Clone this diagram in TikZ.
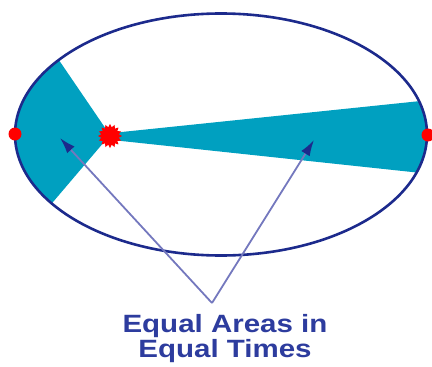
\documentclass[tikz,border=0pt]{standalone}
\usepackage{fontspec}
\setsansfont{Liberation Sans}
\usetikzlibrary{arrows.meta,shapes.geometric}
\definecolor{orbitblue}{HTML}{1C2A8C}
\definecolor{sweep}{HTML}{00A0C0}
\definecolor{ptr}{HTML}{7478BE}
\definecolor{ptrhead}{HTML}{1C2A8C}
\definecolor{captionblue}{HTML}{2D3C9E}

\begin{document}
\begin{tikzpicture}[x=1pt,y=-1pt,font=\sffamily\bfseries,
  orbit/.style={draw=orbitblue,line width=2.6pt},
  area/.style={fill=sweep},
  planet/.style={circle,fill=red,inner sep=0pt,minimum size=13pt},
  sun/.style={star,star points=16,star point ratio=1.35,fill=red,inner sep=0pt,minimum size=24pt},
  pointer/.style={-{Latex[length=16pt,width=10pt,color=ptrhead]},draw=ptr,line width=1.8pt}]
  \useasboundingbox (0,0) rectangle (432,367);
  % swept areas, cut to the orbit
  \begin{scope}
    \clip (221,134.5) ellipse [x radius=206,y radius=121];
    \fill[area] (110,135) -- (35,25) -- (0,25) -- (0,242) -- (19,242) -- cycle;
    \fill[area] (112,133) -- (440,99) -- (440,175) -- (112,140) -- cycle;
  \end{scope}
  \draw[orbit] (221,134.5) ellipse [x radius=206,y radius=121];
  \node[planet] (leftpos) at (15,134) {};
  \node[planet] (rightpos) at (428,135) {};
  \node[sun] (sunpos) at (110,136) {};
  % label and pointers
  \node[text=captionblue,align=center,xscale=1.18,font=\sffamily\bfseries\fontsize{25}{25}\selectfont] (caption) at (225,339) {Equal Areas in\\Equal Times};
  \coordinate (apex) at (212,303);
  \coordinate (leftarea) at (60,138);
  \coordinate (rightarea) at (314,140);
  \draw[pointer] (apex) -- (leftarea);
  \draw[pointer] (apex) -- (rightarea);
\end{tikzpicture}
\end{document}
